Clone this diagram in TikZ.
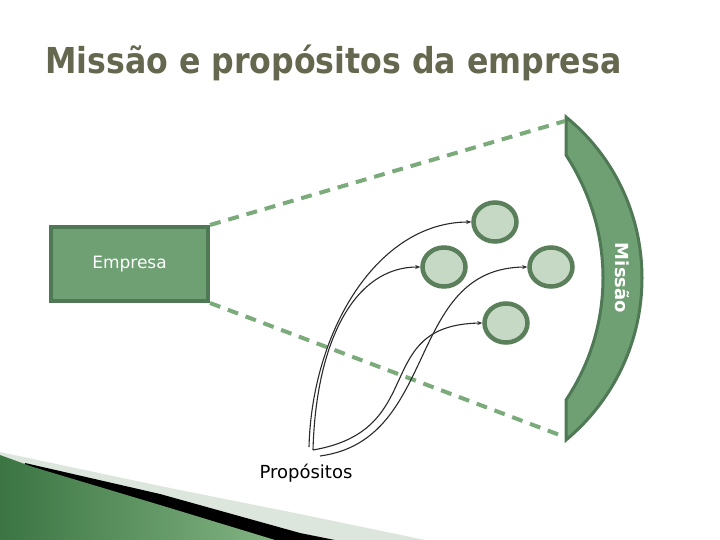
\documentclass[tikz,border=0pt]{standalone}
\usepackage{fontspec}
\setmainfont{DejaVu Sans}
\usetikzlibrary{arrows.meta,shapes.geometric}
\definecolor{titlecol}{HTML}{66674F}
\definecolor{boxfill}{HTML}{6FA074}
\definecolor{boxline}{HTML}{4F7854}
\definecolor{circfill}{HTML}{C5D9C5}
\definecolor{circline}{HTML}{5A7F5A}
\definecolor{dashcol}{HTML}{7BAA7B}
\definecolor{curvecol}{HTML}{2A2A2A}
\definecolor{lightband}{HTML}{DDE6DD}
\definecolor{gdark}{HTML}{3B7543}
\definecolor{glight}{HTML}{82B482}
\tikzset{
  circnode/.style={ellipse, draw=circline, line width=4.5pt, fill=circfill, minimum width=43pt, minimum height=39pt, inner sep=0pt},
  dashline/.style={draw=dashcol, line width=4pt, dash pattern=on 11pt off 8pt},
  curve/.style={draw=curvecol, line width=1.1pt, -{Stealth[length=5pt,width=4pt]}},
}
\begin{document}
\begin{tikzpicture}[x=1pt,y=-1pt]
\useasboundingbox[fill=white] (0,0) rectangle (720,540);
% bottom decoration
\fill[lightband] (0,452) -- (160,486) -- (300,514) -- (425,540) -- (0,540) -- cycle;
\fill[black] (25,463) -- (160,494) -- (300,533) -- (335,540) -- (0,540) -- cycle;
\shade[left color=gdark, right color=glight] (0,455) -- (33,467) -- (160,505) -- (275,540) -- (0,540) -- cycle;
% title
\node[anchor=base west, text=titlecol, font=\bfseries\fontsize{34}{40}\selectfont, inner sep=0pt] (title) at (45,74) {\scalebox{0.93}[1.05]{Missão e propósitos da empresa}};
% Empresa
\node[draw=boxline, line width=4pt, fill=boxfill, minimum width=157pt, minimum height=74pt, text=white, font=\fontsize{17}{20}\selectfont, anchor=north west] (emp) at (49,225) {Empresa};
% Missao shape
\draw[boxline, line width=3pt, fill=boxfill] (566,117) -- (566,155) .. controls (590,192) and (603,234) .. (603,278) .. controls (603,322) and (590,364) .. (566,400) -- (566,440) .. controls (614,400) and (642,341) .. (642,278) .. controls (642,215) and (614,156) .. (566,117) -- cycle;
\node[rotate=-90, text=white, font=\bfseries\fontsize{18}{20}\selectfont] (mis) at (622,278) {Missão};
\coordinate (mtop) at (565,121);
\coordinate (mbot) at (565,437);
% dashed lines
\draw[dashline] (emp.north east) -- (mtop);
\draw[dashline] (emp.south east) -- (mbot);
% circles
\node[circnode] (c1) at (495,222) {};
\node[circnode] (c2) at (444,267) {};
\node[circnode] (c3) at (551,267) {};
\node[circnode] (c4) at (506,323) {};
% label
\node[font=\fontsize{18}{20}\selectfont] (prop) at (306,473) {Propósitos};
\coordinate (p1) at (309,447);
\coordinate (p2) at (313,450);
\coordinate (p3) at (320,456);
\coordinate (p4) at (313,450);
% curves
\draw[curve] (p1) .. controls (312,330) and (378,222) .. (c1.west);
\draw[curve] (p2) .. controls (316,340) and (355,267) .. (c2.west);
\draw[curve] (p3) .. controls (440,440) and (405,268) .. (c3.west);
\draw[curve] (p4) .. controls (430,430) and (370,325) .. (c4.west);
\end{tikzpicture}
\end{document}
